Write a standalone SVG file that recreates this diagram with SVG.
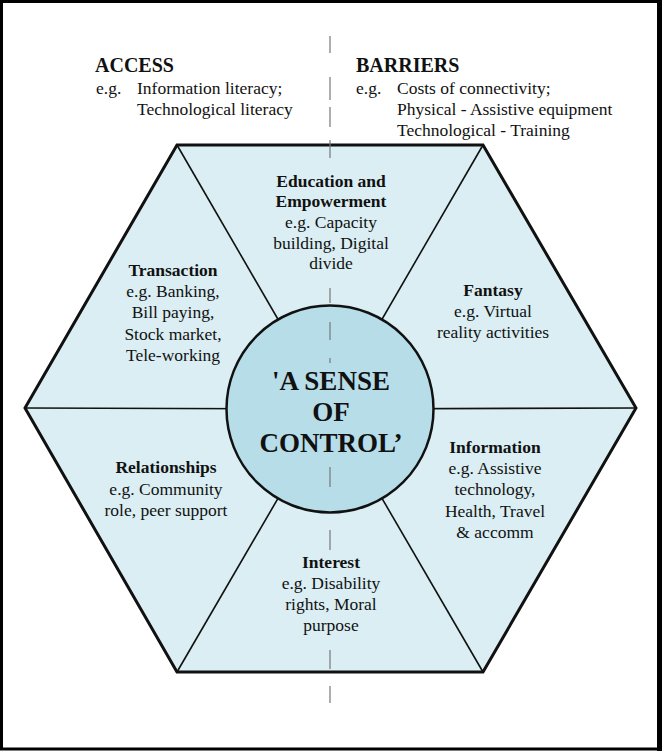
<svg xmlns="http://www.w3.org/2000/svg" width="662" height="751" viewBox="0 0 662 751">
<style>
text{font-family:"Liberation Serif","Times New Roman",serif;fill:#111;}
.h{font-size:20px;font-weight:bold;}
.b{font-size:17.5px;}
.bb{font-size:17.5px;font-weight:bold;}
.c{font-size:27px;font-weight:bold;text-anchor:middle;}
.m{text-anchor:middle;}
.spoke{stroke:#111;stroke-width:1.6;fill:none;}
.dash{stroke:#777;stroke-width:1.2;}
</style>
<rect x="0" y="0" width="662" height="751" fill="#fff"/>
<rect x="1.5" y="1.5" width="657" height="747.5" fill="none" stroke="#000" stroke-width="3"/>
<rect x="657" y="0" width="5" height="751" fill="#000"/>

<g id="hexagon">
<polygon points="25,408 177,145 483,145 636,408 483,672 177,672" fill="#daeef3"/>
</g>
<g id="connectors">
<line class="spoke" x1="330" y1="409" x2="177" y2="145"/>
<line class="spoke" x1="330" y1="409" x2="483" y2="145"/>
<line class="spoke" x1="330" y1="409" x2="25" y2="408"/>
<line class="spoke" x1="330" y1="409" x2="636" y2="408"/>
<line class="spoke" x1="330" y1="409" x2="177" y2="672"/>
<line class="spoke" x1="330" y1="409" x2="483" y2="672"/>
</g>
<polygon points="25,408 177,145 483,145 636,408 483,672 177,672" fill="none" stroke="#111" stroke-width="3" stroke-linejoin="miter"/>

<g id="divider">
<line class="dash" x1="330" y1="36" x2="330" y2="53"/>
<line class="dash" x1="330" y1="77" x2="330" y2="100"/>
<line class="dash" x1="330" y1="107" x2="330" y2="127"/>
<line class="dash" x1="330" y1="140" x2="330" y2="158"/>
<line class="dash" x1="330" y1="288" x2="330" y2="303"/>
<line class="dash" x1="330" y1="322" x2="330" y2="340"/>
<line class="dash" x1="330" y1="358" x2="330" y2="363"/>
<line class="dash" x1="330" y1="467" x2="330" y2="487"/>
<line class="dash" x1="330" y1="530" x2="330" y2="550"/>
<line class="dash" x1="330" y1="650" x2="330" y2="669"/>
<line class="dash" x1="330" y1="686" x2="330" y2="703"/>
</g>

<g id="center">
<circle cx="330" cy="409" r="103.5" fill="#b6dde8" stroke="#111" stroke-width="2.5"/>
<line class="dash" x1="330" y1="322" x2="330" y2="340"/>
<line class="dash" x1="330" y1="358" x2="330" y2="363"/>
<line class="dash" x1="330" y1="467" x2="330" y2="487"/>
<text class="c" x="331" y="390">'A SENSE</text>
<text class="c" x="331" y="421">OF</text>
<text class="c" x="331" y="452">CONTROL’</text>
</g>

<g id="access">
<text class="h" x="95" y="72">ACCESS</text>
<text class="b" x="96" y="94">e.g.</text>
<text class="b" x="137" y="94">Information literacy;</text>
<text class="b" x="137" y="115">Technological literacy</text>
</g>

<g id="barriers">
<text class="h" x="356" y="72">BARRIERS</text>
<text class="b" x="356" y="94">e.g.</text>
<text class="b" x="397" y="94">Costs of connectivity;</text>
<text class="b" x="397" y="115">Physical - Assistive equipment</text>
<text class="b" x="397" y="136">Technological - Training</text>
</g>

<g id="education">
<text class="bb m" x="331" y="187">Education and</text>
<text class="bb m" x="331" y="207">Empowerment</text>
<text class="b m" x="331" y="228">e.g. Capacity</text>
<text class="b m" x="331" y="249">building, Digital</text>
<text class="b m" x="331" y="269">divide</text>
</g>

<g id="transaction">
<text class="bb m" x="173" y="276">Transaction</text>
<text class="b m" x="173" y="297">e.g. Banking,</text>
<text class="b m" x="173" y="318">Bill paying,</text>
<text class="b m" x="173" y="340">Stock market,</text>
<text class="b m" x="173" y="361">Tele-working</text>
</g>

<g id="fantasy">
<text class="bb m" x="493" y="296">Fantasy</text>
<text class="b m" x="493" y="317">e.g. Virtual</text>
<text class="b m" x="493" y="338">reality activities</text>
</g>

<g id="relationships">
<text class="bb m" x="166" y="473">Relationships</text>
<text class="b m" x="166" y="495">e.g. Community</text>
<text class="b m" x="166" y="516">role, peer support</text>
</g>

<g id="information">
<text class="bb m" x="495" y="453">Information</text>
<text class="b m" x="495" y="474">e.g. Assistive</text>
<text class="b m" x="495" y="495">technology,</text>
<text class="b m" x="495" y="517">Health, Travel</text>
<text class="b m" x="495" y="538">&amp; accomm</text>
</g>

<g id="interest">
<text class="bb m" x="331" y="568">Interest</text>
<text class="b m" x="331" y="589">e.g. Disability</text>
<text class="b m" x="331" y="610">rights, Moral</text>
<text class="b m" x="331" y="631">purpose</text>
</g>
</svg>
